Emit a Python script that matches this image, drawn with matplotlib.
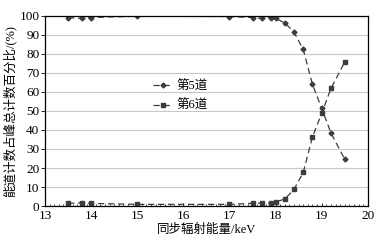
import matplotlib
matplotlib.use('Agg')
import matplotlib.pyplot as plt
from matplotlib.ticker import MultipleLocator

plt.rcParams['font.family'] = ['Liberation Serif', 'Noto Sans CJK SC']

energy = [13.5, 13.8, 14.0, 15.0, 17.0, 17.5, 17.7, 17.9, 18.0, 18.2, 18.4, 18.6, 18.8, 19.0, 19.2, 19.5]
ch5 = [99.0, 98.6, 99.1, 99.8, 99.6, 99.1, 98.6, 99.1, 98.6, 96.3, 91.4, 82.3, 63.9, 51.3, 38.5, 24.5]
ch6 = [1.4, 1.7, 1.4, 0.9, 0.9, 1.4, 1.6, 1.6, 2.1, 3.7, 8.8, 17.7, 36.4, 48.7, 61.8, 75.7]
labels = ['第5道', '第6道']

fig = plt.figure(figsize=(3.88, 2.43), dpi=100)
ax = fig.add_axes([0.116, 0.152, 0.832, 0.783])

c = '#3c3c3c'
ax.plot(energy, ch5, linestyle=(0, (5, 3)), color=c, lw=0.9, marker='D', ms=2.5, label=labels[0])
ax.plot(energy, ch6, linestyle=(0, (5, 3)), color=c, lw=0.9, marker='s', ms=3.5, label=labels[1])

ax.set_xlim(13, 20)
ax.set_ylim(0, 100)
ax.set_xticks(range(13, 21))
ax.set_yticks(range(0, 101, 10))
ax.xaxis.set_minor_locator(MultipleLocator(0.1))
ax.grid(axis='y', color='#c8c8c8', lw=0.8)
ax.set_axisbelow(True)
ax.tick_params(axis='x', direction='in', length=2, width=0.6, labelsize=9.5, pad=3)
ax.tick_params(axis='x', which='minor', direction='in', length=1.5, width=0.5)
ax.tick_params(axis='y', direction='out', length=3, width=0.6, labelsize=9.5, pad=1)
for s in ax.spines.values():
    s.set_linewidth(0.9)
    s.set_color('black')

ax.set_xlabel('同步辐射能量/keV', fontsize=9, labelpad=1)
ax.set_ylabel('能道计数占峰总计数百分比/(%)', fontsize=9, labelpad=2)

ax.legend(loc='upper left', bbox_to_anchor=(0.3, 0.72), frameon=False, fontsize=9,
          handlelength=1.6, handletextpad=0.3, labelspacing=0.6)

fig.savefig('out.png', dpi=100)
